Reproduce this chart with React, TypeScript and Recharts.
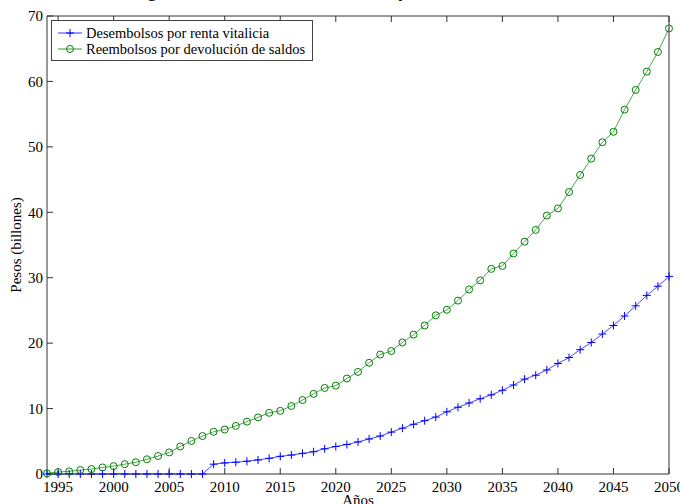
import { LineChart, Line, XAxis, YAxis, Legend } from "recharts";

const years = [
  1994, 1995, 1996, 1997, 1998, 1999, 2000, 2001, 2002, 2003,
  2004, 2005, 2006, 2007, 2008, 2009, 2010, 2011, 2012, 2013,
  2014, 2015, 2016, 2017, 2018, 2019, 2020, 2021, 2022, 2023,
  2024, 2025, 2026, 2027, 2028, 2029, 2030, 2031, 2032, 2033,
  2034, 2035, 2036, 2037, 2038, 2039, 2040, 2041, 2042, 2043,
  2044, 2045, 2046, 2047, 2048, 2049, 2050,
];

// Desembolsos por renta vitalicia
const desembolsos = [
  0, 0, 0, 0, 0, 0, 0, 0, 0, 0,
  0, 0, 0, 0, 0, 1.5, 1.7, 1.8, 1.95, 2.15,
  2.4, 2.7, 2.9, 3.15, 3.4, 3.85, 4.2, 4.5, 4.9, 5.35,
  5.8, 6.4, 7.0, 7.6, 8.15, 8.7, 9.5, 10.2, 10.85, 11.5,
  12.1, 12.8, 13.6, 14.5, 15.1, 15.9, 16.9, 17.8, 19.0, 20.1,
  21.4, 22.7, 24.15, 25.7, 27.3, 28.7, 30.2,
];

// Reembolsos por devolución de saldos
const reembolsos = [
  0.1, 0.3, 0.4, 0.6, 0.75, 1.0, 1.2, 1.5, 1.8, 2.25,
  2.75, 3.3, 4.2, 5.05, 5.8, 6.45, 6.8, 7.35, 8.0, 8.65,
  9.35, 9.65, 10.4, 11.3, 12.25, 13.15, 13.5, 14.6, 15.6, 17.0,
  18.25, 18.8, 20.1, 21.3, 22.7, 24.25, 25.1, 26.5, 28.2, 29.6,
  31.35, 31.8, 33.7, 35.5, 37.3, 39.5, 40.6, 43.1, 45.7, 48.2,
  50.7, 52.3, 55.7, 58.7, 61.5, 64.5, 68.1,
];

const xTicks = [1995, 2000, 2005, 2010, 2015, 2020, 2025, 2030, 2035, 2040, 2045, 2050];
const yTicks = [0, 10, 20, 30, 40, 50, 60, 70];

const seriesNames = ["Desembolsos por renta vitalicia", "Reembolsos por devolución de saldos"];
const title = "Egresos totales de renta vitalicia y devolución de saldos";

const rows = years.map((year, i) => ({
  year,
  desembolsos: desembolsos[i],
  reembolsos: reembolsos[i],
}));

const BLUE = "#0000ff";
const GREEN = "#008000";
const AXIS = "#333";
const FONT = "'Liberation Serif', 'DejaVu Serif', serif";

const PlusDot = (props: any) => {
  const { cx, cy, index } = props;
  if (cx == null || cy == null) return null;
  return (
    <path
      key={`p-${index}`}
      d={`M${cx - 4},${cy}H${cx + 4}M${cx},${cy - 4}V${cy + 4}`}
      stroke={BLUE}
      strokeWidth={1}
      fill="none"
    />
  );
};

const CircleDot = (props: any) => {
  const { cx, cy, index } = props;
  if (cx == null || cy == null) return null;
  return (
    <circle key={`c-${index}`} cx={cx} cy={cy} r={3.5} stroke={GREEN} strokeWidth={1} fill="none" />
  );
};

const LegendBox = () => (
  <div
    style={{
      border: "1px solid #444",
      background: "#fff",
      width: 262,
      height: 41,
      boxSizing: "border-box",
      padding: "4px 0 0 5px",
      fontFamily: FONT,
      fontSize: 14.5,
      lineHeight: "16px",
      color: "#000",
      whiteSpace: "nowrap",
      overflow: "visible",
    }}
  >
    {seriesNames.map((name, i) => (
      <div key={name} style={{ display: "flex", alignItems: "center", height: 16 }}>
        <svg width={26} height={12} style={{ marginRight: 3, flexShrink: 0 }}>
          <line x1={1} x2={25} y1={6} y2={6} stroke={i === 0 ? BLUE : GREEN} strokeWidth={0.8} />
          {i === 0 ? (
            <path d="M9,6H17M13,2V10" stroke={BLUE} strokeWidth={1} />
          ) : (
            <circle cx={13} cy={6} r={3.5} stroke={GREEN} fill="none" strokeWidth={1} />
          )}
        </svg>
        <span>{name}</span>
      </div>
    ))}
  </div>
);

const YTitle = () => (
  <text
    x={18}
    y={245}
    transform="rotate(-90 18 245)"
    textAnchor="middle"
    dominantBaseline="middle"
    fontFamily={FONT}
    fontSize={15}
    fill="#000"
  >
    Pesos (billones)
  </text>
);

const XTitle = () => (
  <text x={358} y={505} textAnchor="middle" fontFamily={FONT} fontSize={15} fill="#000">
    Años
  </text>
);

export default function App() {
  const tickStyle = { fill: "#000", fontSize: 15, fontFamily: FONT };
  return (
    <div
      style={{
        position: "absolute",
        left: 0,
        top: 0,
        width: 680,
        height: 504,
        overflow: "hidden",
        background: "#fff",
        fontFamily: FONT,
      }}
    >
      <div
        style={{
          position: "absolute",
          left: 0,
          top: -21,
          width: 716,
          textAlign: "center",
          fontSize: 20,
          lineHeight: "20px",
          whiteSpace: "nowrap",
          color: "#000",
        }}
      >
        {title}
      </div>
      <LineChart width={680} height={504} data={rows} margin={{ top: 15, right: 10, bottom: 0, left: 0 }}>
        <XAxis
          xAxisId="b"
          dataKey="year"
          type="number"
          domain={[1994, 2050]}
          ticks={xTicks}
          height={30}
          tickSize={-6}
          tickMargin={13}
          stroke={AXIS}
          tick={tickStyle}
          interval={0}
          label={<XTitle />}
        />
        <XAxis
          xAxisId="t"
          orientation="top"
          dataKey="year"
          type="number"
          domain={[1994, 2050]}
          ticks={xTicks}
          height={1}
          tickSize={-6}
          stroke={AXIS}
          tickFormatter={() => ""}
          interval={0}
        />
        <YAxis
          yAxisId="l"
          type="number"
          domain={[0, 70]}
          ticks={yTicks}
          width={47}
          tickSize={-6}
          tickMargin={10}
          stroke={AXIS}
          tick={tickStyle}
          interval={0}
          label={<YTitle />}
        />
        <YAxis
          yAxisId="r"
          orientation="right"
          type="number"
          domain={[0, 70]}
          ticks={yTicks}
          width={1}
          tickSize={-6}
          stroke={AXIS}
          tickFormatter={() => ""}
          interval={0}
        />
        <Legend
          layout="horizontal"
          verticalAlign="middle"
          align="center"
          content={<LegendBox />}
          wrapperStyle={{ left: 51, top: 20, width: 262 }}
        />
        <Line
          xAxisId="b"
          yAxisId="l"
          dataKey="desembolsos"
          name={seriesNames[0]}
          stroke={BLUE}
          strokeWidth={0.7}
          dot={PlusDot}
          activeDot={false}
          isAnimationActive={false}
        />
        <Line
          xAxisId="b"
          yAxisId="l"
          dataKey="reembolsos"
          name={seriesNames[1]}
          stroke={GREEN}
          strokeWidth={0.7}
          dot={CircleDot}
          activeDot={false}
          isAnimationActive={false}
        />
      </LineChart>
    </div>
  );
}
